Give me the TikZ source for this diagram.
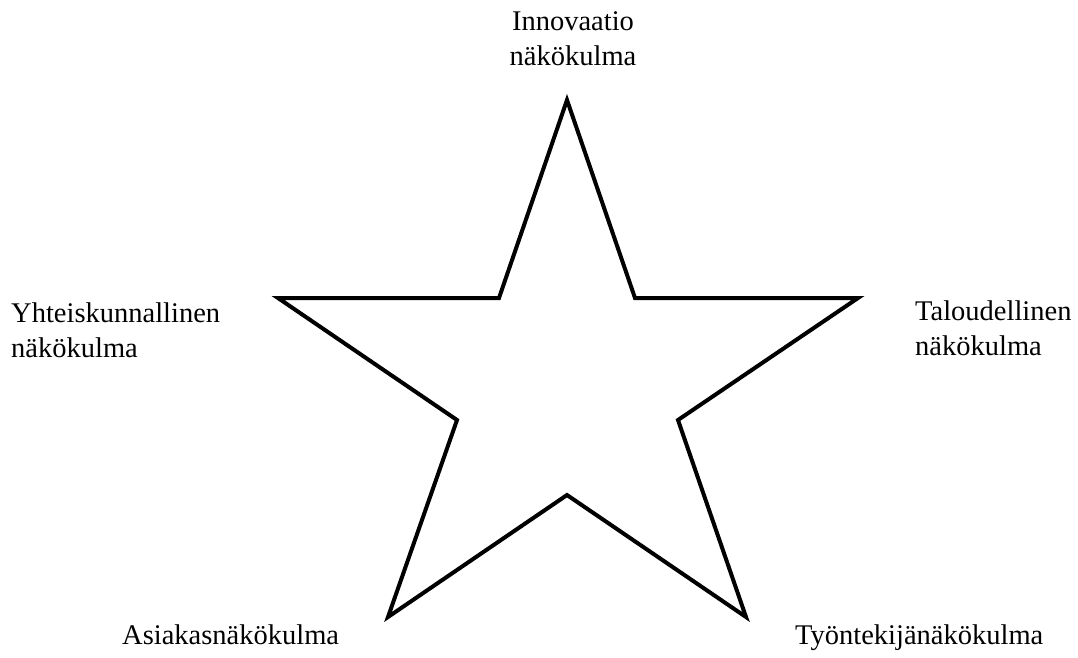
\documentclass[tikz,border=0pt]{standalone}
\usepackage{fontspec}
\setmainfont{Liberation Serif}
\begin{document}
\begin{tikzpicture}[x=1pt,y=-1pt,
  lbl/.style={inner sep=0pt,font=\fontsize{28.5}{35}\selectfont},
  starline/.style={draw=black,line width=4pt,line join=miter}]
\useasboundingbox (0,0) rectangle (1078,657);
\coordinate (p1) at (567,100);
\coordinate (q1) at (635,298);
\coordinate (p2) at (858,298);
\coordinate (q2) at (678,420);
\coordinate (p3) at (746,617);
\coordinate (q3) at (567,495);
\coordinate (p4) at (388,617);
\coordinate (q4) at (457,420);
\coordinate (p5) at (278,298);
\coordinate (q5) at (499,298);
\draw[starline] (p1) -- (q1) -- (p2) -- (q2) -- (p3) -- (q3) -- (p4) -- (q4) -- (p5) -- (q5) -- cycle;
\node[lbl,align=center,anchor=base] (top) at (573,65) {Innovaatio\\näkökulma};
\node[lbl,align=left,anchor=base west] (left) at (11,357) {Yhteiskunnallinen\\näkökulma};
\node[lbl,align=left,anchor=base west] (right) at (915,355) {Taloudellinen\\näkökulma};
\node[lbl,anchor=base west] (bl) at (122,644) {Asiakasnäkökulma};
\node[lbl,anchor=base west] (br) at (795,644) {Työntekijänäkökulma};
\end{tikzpicture}
\end{document}
